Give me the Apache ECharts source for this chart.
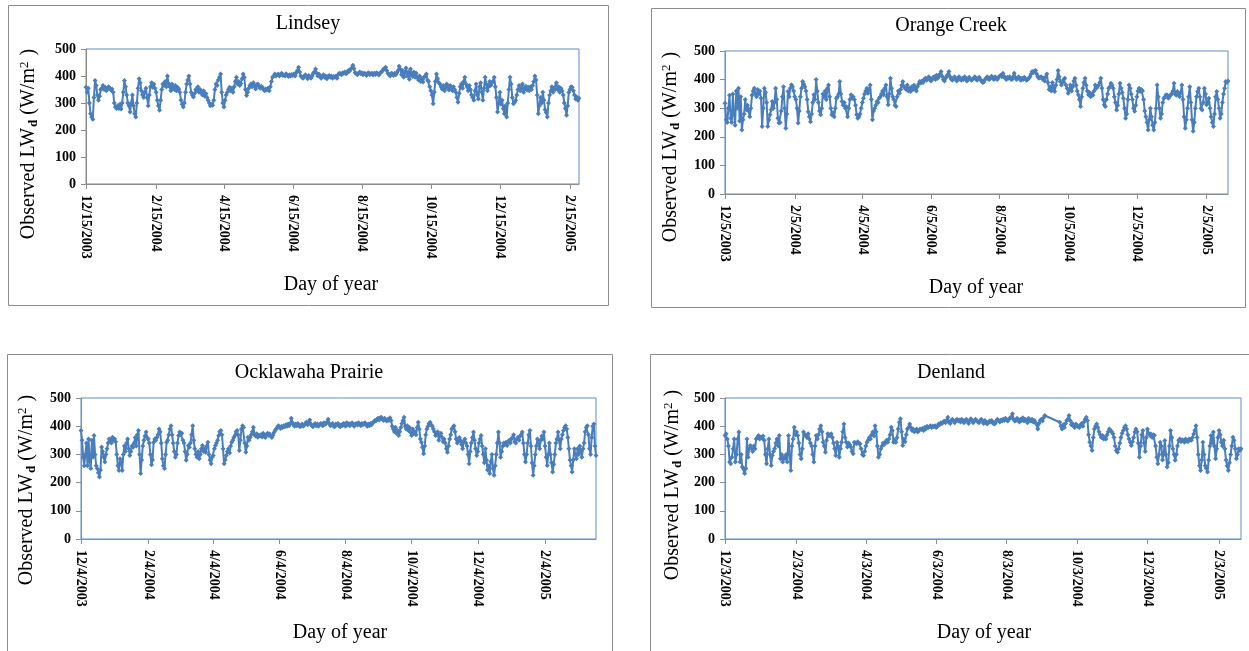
<!DOCTYPE html>
<html>
<head>
<meta charset="utf-8">
<script src="https://cdn.jsdelivr.net/npm/echarts@6/dist/echarts.min.js"></script>
<style>
  html, body { margin: 0; padding: 0; background: #ffffff; }
  #chart { width: 1249px; height: 651px; }
</style>
</head>
<body>
<div id="chart"></div>
<script>
// Daily observed downward longwave radiation (W/m2) at four sites.

const lindseyStart = '12/15/2003';
const lindseyTicks = ['12/15/2003', '2/15/2004', '4/15/2004', '6/15/2004', '8/15/2004', '10/15/2004', '12/15/2004', '2/15/2005'];
const lindsey = [
  358, 340, 355, 300, 260, 248, 240, 320, 383, 365,
  330, 310, 325, 350, 355, 365, 350, 358, 345, 352,
  360, 355, 348, 352, 340, 300, 285, 280, 290, 280,
  295, 278, 300, 340, 383, 360, 330, 300, 290, 267,
  300, 330, 290, 260, 248, 300, 355, 390, 375, 345,
  330, 320, 340, 355, 320, 290, 330, 360, 375, 358,
  370, 355, 340, 310, 290, 273, 310, 350, 370, 365,
  380, 360, 400, 372, 360, 345, 370, 355, 350, 365,
  345, 358, 352, 340, 310, 295, 285, 300, 340, 370,
  385, 400, 370, 340, 330, 322, 335, 350, 345, 360,
  340, 350, 338, 330, 345, 325, 335, 320, 310, 300,
  290, 295, 292, 310, 350, 370, 365, 385, 395, 407,
  340, 300, 285, 310, 330, 340, 350, 358, 345, 355,
  340, 360, 380, 395, 370, 380, 365, 372, 390, 407,
  395, 350, 328, 340, 355, 365, 370, 360, 375, 362,
  352, 368, 370, 360, 355, 362, 358, 350, 345, 352,
  348, 355, 345, 360, 380, 395, 400, 407, 400, 405,
  407, 400, 405, 410, 402, 404, 400, 408, 403, 398,
  405, 400, 406, 402, 408, 400, 412, 420, 432, 415,
  400, 395, 392, 400, 405, 398, 390, 402, 398, 392,
  400, 410, 415, 426, 410, 400, 407, 398, 392, 400,
  405, 395, 400, 390, 398, 402, 395, 400, 392, 398,
  395, 400, 392, 405, 410, 408, 405, 412, 410, 415,
  408, 412, 420, 418, 425, 430, 440, 428, 412, 408,
  405, 410, 415, 408, 412, 405, 410, 408, 402, 410,
  412, 405, 408, 410, 404, 410, 406, 412, 408, 404,
  410, 415, 418, 425, 428, 432, 420, 410, 405, 400,
  410, 408, 402, 410, 405, 412, 420, 436, 425, 405,
  420, 395, 412, 430, 400, 415, 388, 426, 405, 398,
  415, 395, 410, 395, 385, 400, 380, 392, 378, 395,
  400, 407, 385, 380, 360, 345, 330, 297, 340, 380,
  407, 390, 375, 370, 360, 352, 365, 345, 355, 370,
  360, 348, 365, 355, 345, 360, 350, 340, 320, 303,
  335, 360, 370, 355, 380, 395, 370, 360, 345, 365,
  350, 330, 320, 310, 345, 370, 330, 315, 360, 375,
  340, 310, 355, 395, 370, 345, 360, 380, 365, 375,
  380, 395, 360, 320, 267, 300, 340, 295, 310, 280,
  260, 290, 248, 300, 350, 395, 370, 320, 297, 303,
  310, 330, 350, 365, 345, 355, 370, 340, 352, 362,
  348, 358, 345, 360, 350, 365, 380, 400, 385, 330,
  260, 290, 320, 300, 340, 310, 275, 265, 248, 300,
  330, 345, 360, 340, 355, 350, 375, 350, 360, 340,
  355, 345, 330, 300, 280, 255, 290, 340, 350, 360,
  358, 345, 330, 315, 322, 310, 318
];

const orangeStart = '12/5/2003';
const orangeTicks = ['12/5/2003', '2/5/2004', '4/5/2004', '6/5/2004', '8/5/2004', '10/5/2004', '12/5/2004', '2/5/2005'];
const orangeCreek = [
  317, 260, 250, 300, 345, 265, 250, 350, 280, 240,
  360, 300, 370, 255, 340, 224, 260, 280, 330, 295,
  310, 290, 270, 300, 345, 360, 370, 350, 340, 365,
  350, 360, 335, 236, 300, 370, 355, 320, 236, 260,
  277, 295, 323, 300, 320, 370, 330, 265, 248, 250,
  290, 340, 375, 300, 230, 280, 358, 340, 370, 382,
  375, 360, 340, 330, 300, 248, 290, 340, 370, 393,
  385, 375, 360, 330, 288, 270, 253, 280, 320, 347,
  330, 400, 360, 320, 290, 277, 300, 350, 340, 360,
  330, 370, 381, 340, 300, 277, 285, 270, 300, 335,
  340, 350, 393, 350, 323, 310, 320, 300, 305, 270,
  300, 330, 347, 335, 340, 330, 310, 277, 265, 270,
  280, 300, 320, 335, 350, 360, 370, 352, 365, 381,
  330, 260, 290, 300, 310, 323, 320, 335, 340, 350,
  360, 347, 370, 381, 340, 312, 350, 405, 370, 340,
  330, 310, 306, 340, 360, 352, 365, 380, 393, 375,
  370, 365, 381, 360, 370, 358, 375, 365, 380, 370,
  360, 375, 385, 393, 388, 395, 390, 400, 405, 398,
  402, 410, 405, 395, 400, 408, 410, 400, 415, 405,
  410, 420, 428, 412, 400, 395, 405, 412, 418, 428,
  410, 402, 398, 405, 410, 400, 395, 405, 410, 400,
  398, 405, 400, 410, 405, 395, 400, 408, 402, 398,
  400, 405, 410, 402, 398, 405, 408, 400, 395, 390,
  392, 400, 405, 410, 402, 400, 408, 412, 405, 400,
  410, 405, 400, 408, 412, 415, 410, 422, 412, 405,
  400, 408, 405, 410, 402, 400, 410, 422, 408, 400,
  405, 410, 402, 398, 405, 400, 408, 402, 398, 400,
  405, 410, 420, 428, 425, 430, 432, 420, 410, 405,
  408, 410, 402, 405, 395, 410, 420, 390, 365, 375,
  360, 390, 370, 358, 380, 400, 432, 410, 393, 381,
  390, 400, 405, 381, 370, 352, 365, 381, 360, 375,
  395, 405, 380, 360, 347, 330, 306, 340, 370, 390,
  405, 380, 360, 347, 355, 340, 350, 345, 360, 381,
  370, 375, 380, 390, 405, 370, 330, 312, 306, 330,
  350, 370, 375, 387, 380, 370, 340, 320, 294, 310,
  350, 387, 370, 355, 335, 300, 265, 280, 330, 381,
  370, 350, 330, 300, 289, 310, 340, 360, 370, 358,
  365, 360, 330, 290, 270, 250, 224, 260, 300, 270,
  240, 224, 250, 300, 381, 340, 300, 265, 280, 320,
  335, 340, 347, 345, 335, 340, 347, 350, 360, 387,
  350, 345, 358, 350, 340, 355, 381, 330, 270, 230,
  260, 300, 340, 375, 320, 260, 219, 250, 300, 340,
  358, 370, 340, 300, 294, 320, 370, 350, 312, 320,
  335, 300, 270, 250, 236, 280, 340, 358, 330, 300,
  265, 280, 320, 350, 370, 393, 390, 395
];

const ocklawahaStart = '12/4/2003';
const ocklawahaTicks = ['12/4/2003', '2/4/2004', '4/4/2004', '6/4/2004', '8/4/2004', '10/4/2004', '12/4/2004', '2/4/2005'];
const ocklawaha = [
  385, 350, 290, 260, 300, 340, 260, 355, 275, 250,
  350, 290, 367, 300, 260, 250, 235, 220, 245, 326,
  310, 290, 273, 300, 320, 340, 355, 350, 340, 361,
  350, 355, 345, 300, 260, 243, 285, 270, 243, 300,
  330, 310, 340, 355, 320, 296, 310, 330, 325, 340,
  360, 330, 370, 385, 300, 232, 280, 330, 350, 365,
  379, 360, 355, 340, 300, 263, 280, 343, 355, 350,
  360, 370, 390, 380, 340, 285, 260, 250, 300, 343,
  350, 370, 390, 402, 370, 340, 310, 290, 300, 340,
  367, 379, 370, 375, 350, 340, 310, 279, 300, 332,
  325, 340, 370, 402, 350, 320, 300, 290, 310, 285,
  300, 320, 332, 310, 320, 308, 330, 343, 300, 280,
  267, 290, 296, 320, 332, 340, 350, 367, 380, 385,
  370, 320, 267, 280, 296, 310, 320, 305, 330, 343,
  350, 360, 367, 380, 385, 370, 314, 350, 390, 402,
  395, 340, 308, 330, 361, 350, 360, 370, 380, 396,
  370, 365, 373, 361, 368, 365, 370, 362, 375, 365,
  360, 370, 375, 368, 372, 365, 360, 368, 378, 385,
  390, 395, 402, 398, 392, 400, 395, 402, 398, 405,
  400, 408, 402, 410, 428, 412, 405, 400, 408, 402,
  410, 405, 398, 402, 408, 400, 405, 410, 415, 405,
  410, 422, 408, 402, 398, 405, 410, 402, 408, 400,
  405, 410, 408, 402, 412, 406, 410, 415, 425, 410,
  402, 405, 410, 400, 398, 408, 404, 410, 402, 398,
  405, 402, 410, 408, 400, 412, 405, 410, 402, 408,
  412, 405, 400, 408, 410, 404, 412, 408, 402, 410,
  405, 410, 412, 404, 400, 408, 402, 410, 405, 412,
  415, 420, 418, 425, 428, 422, 430, 432, 425, 420,
  428, 422, 418, 425, 420, 430, 420, 400, 390, 380,
  396, 375, 385, 367, 380, 395, 410, 420, 432, 400,
  390, 402, 385, 395, 378, 367, 390, 375, 380, 370,
  395, 414, 390, 355, 343, 325, 302, 330, 370, 390,
  400, 410, 414, 405, 400, 390, 380, 367, 370, 380,
  350, 367, 375, 360, 345, 355, 340, 320, 308, 330,
  355, 370, 390, 395, 402, 380, 355, 340, 345, 360,
  350, 335, 320, 345, 355, 340, 330, 300, 267, 310,
  340, 360, 379, 350, 320, 296, 310, 340, 355, 367,
  330, 300, 270, 320, 280, 245, 260, 232, 275, 300,
  250, 226, 260, 300, 340, 379, 340, 290, 310, 330,
  340, 335, 343, 332, 345, 350, 340, 355, 360, 370,
  345, 340, 355, 360, 350, 365, 370, 379, 340, 300,
  273, 300, 340, 370, 385, 330, 270, 226, 260, 300,
  330, 355, 340, 320, 350, 365, 355, 379, 330, 290,
  261, 300, 340, 300, 270, 238, 265, 300, 340, 355,
  379, 350, 320, 355, 370, 385, 395, 402, 390, 360,
  320, 280, 260, 238, 280, 320, 300, 285, 320, 300,
  330, 310, 290, 320, 340, 380, 395, 402, 370, 320,
  300, 360, 400, 408, 330, 296
];

const denlandStart = '12/3/2003';
const denlandTicks = ['12/3/2003', '2/3/2004', '4/3/2004', '6/3/2004', '8/3/2004', '10/3/2004', '12/3/2004', '2/3/2005'];
// null = day without a record; the line runs straight across those days
const denland = [
  367, 373, 355, 330, 273, 267, 290, 320, 355, 273,
  300, 355, 379, 273, 300, 255, 250, 232, 250, 355,
  290, 320, 332, 320, 310, 330, 320, 355, 360, 367,
  355, 362, 358, 365, 350, 300, 267, 320, 355, 300,
  261, 296, 310, 320, 340, 355, 330, 367, 285, 300,
  273, 290, 285, 300, 273, 367, 300, 243, 330, 355,
  396, 370, 379, 367, 340, 300, 285, 320, 379, 370,
  367, 360, 373, 355, 340, 330, 300, 273, 330, 367,
  355, 370, 390, 402, 380, 343, 330, 308, 350, 373,
  365, 370, 373, 360, 340, 320, 296, 343, 330, 290,
  320, 343, 380, 408, 360, 343, 326, 340, 335, 326,
  310, 302, 343, 340, 338, 345, 340, 338, 320, 300,
  296, 310, 330, 343, 350, 360, 355, 370, 379, 365,
  402, 380, 330, 290, 300, 320, 330, 340, 335, 343,
  350, 343, 355, 370, 396, 385, 343, 350, 343, 360,
  390, 414, 426, 380, 332, 355, 345, 370, 390, 395,
  408, 395, 385, 390, 380, 385, 390, 379, 385, 390,
  388, 392, 385, 395, 390, 400, 395, 398, 402, 395,
  400, 398, 402, 395, 400, 408, 405, 412, 410, 415,
  418, 412, 420, 432, 415, 410, 420, 425, 418, 412,
  420, 425, 418, 422, 415, 425, 420, 412, 420, 425,
  418, 410, 420, 426, 420, 412, 418, 425, 420, 415,
  412, 420, 425, 418, 410, 420, 415, 408, 412, 418,
  415, 420, 412, 408, 410, 418, 425, 420, 415, 422,
  418, 425, 420, 428, 422, 418, 425, 430, 432, 444,
  425, 418, 420, 428, 422, 415, 425, 420, 430, 418,
  425, 420, 412, 428, 422, 418, 425, 415, 420, 412,
  408, 390, 410, 420, 425, 418, 430, 438, null, null,
  null, null, null, null, null, null, null, null, null, null,
  414, 400, 390, 405, 395, 410, 420, 425, 438, 420,
  405, 410, 400, 395, 408, 402, 398, 395, 405, 410,
  400, 415, 425, 432, 420, 370, 343, 330, 314, 360,
  390, 400, 408, 395, 380, 370, 360, 367, 355, 360,
  355, 370, 380, 390, 385, 380, 373, 360, 330, 314,
  308, 320, 340, 360, 375, 385, 395, 402, 390, 370,
  355, 343, 332, 345, 360, 379, 390, 380, 340, 290,
  330, 370, 385, 340, 310, 360, 390, 375, 368, 372,
  360, 370, 368, 330, 290, 267, 300, 343, 330, 280,
  300, 349, 300, 255, 270, 330, 385, 360, 320, 300,
  279, 300, 330, 350, 355, 345, 352, 348, 343, 355,
  350, 345, 355, 352, 350, 360, 372, 385, 402, 360,
  300, 260, 243, 280, 343, 300, 260, 250, 238, 280,
  330, 367, 340, 379, 330, 285, 320, 360, 385, 370,
  343, 330, 350, 320, 280, 260, 243, 270, 300, 330,
  361, 350, 320, 285, 300, 320, 314, 320
];

const yTicks = [0, 100, 200, 300, 400, 500];
const xAxisTitle = 'Day of year';

// ---------- layout of the four panels ----------
const SERIF = "'Liberation Serif', 'Times New Roman', serif";
const LINE_BLUE = '#4A7EBB';

const panels = [
  { name: 'Lindsey', values: lindsey, start: lindseyStart, ticks: lindseyTicks,
    box: [8, 5, 600, 300], grid: [86, 49, 493, 135], title: [308, 24], yTitle: [29, 144], xTitle: [331, 284] },
  { name: 'Orange Creek', values: orangeCreek, start: orangeStart, ticks: orangeTicks,
    box: [651, 8, 594, 299], grid: [725, 51, 503, 143], title: [951, 26], yTitle: [671, 147], xTitle: [976, 287] },
  { name: 'Ocklawaha Prairie', values: ocklawaha, start: ocklawahaStart, ticks: ocklawahaTicks,
    box: [7, 354, 605, 320], grid: [81, 398, 515, 141], title: [309, 373], yTitle: [27, 490], xTitle: [340, 632] },
  { name: 'Denland', values: denland, start: denlandStart, ticks: denlandTicks,
    box: [650, 354, 620, 320], grid: [725, 398, 516, 141], title: [951, 373], yTitle: [673, 485], xTitle: [984, 632] }
];

function utcDay(label) {
  const [m, d, y] = label.split('/').map(Number);
  return Date.UTC(y, m - 1, d) / 86400000;
}

const grids = [], xAxes = [], yAxes = [], series = [], graphics = [];

panels.forEach((p, i) => {
  const startDay = utcDay(p.start);
  const tickPos = p.ticks.map(t => utcDay(t) - startDay);
  const tickName = {};
  p.ticks.forEach((t, k) => { tickName[tickPos[k]] = t; });

  grids.push({
    left: p.grid[0], top: p.grid[1], width: p.grid[2], height: p.grid[3],
    show: true, borderColor: '#5B8DCB', borderWidth: 1, backgroundColor: '#ffffff'
  });

  xAxes.push({
    type: 'value', gridIndex: i, min: 0, max: p.values.length - 1,
    splitLine: { show: false },
    axisLine: { show: true, onZero: false, lineStyle: { color: '#8C8C8C', width: 1 } },
    axisTick: { show: true, inside: false, length: 5, customValues: tickPos,
                lineStyle: { color: '#8C8C8C' } },
    axisLabel: {
      customValues: tickPos, rotate: -90, margin: 11,
      formatter: v => tickName[v] || '',
      fontFamily: SERIF, fontWeight: 'bold', fontSize: 14, color: '#000000'
    }
  });

  yAxes.push({
    type: 'value', gridIndex: i, min: yTicks[0], max: yTicks[yTicks.length - 1],
    interval: yTicks[1] - yTicks[0],
    splitLine: { show: false },
    axisLine: { show: true, lineStyle: { color: '#8C8C8C', width: 1 } },
    axisTick: { show: true, inside: false, length: 5, lineStyle: { color: '#8C8C8C' } },
    axisLabel: { margin: 10, fontFamily: SERIF, fontWeight: 'bold', fontSize: 14, color: '#000000' }
  });

  const pts = [];
  p.values.forEach((v, k) => { if (v !== null) pts.push([k, v]); });

  series.push({
    type: 'line', xAxisIndex: i, yAxisIndex: i, data: pts,
    symbol: 'diamond', symbolSize: 5, showAllSymbol: true,
    lineStyle: { color: LINE_BLUE, width: 2 },
    itemStyle: { color: LINE_BLUE, borderWidth: 0 },
    emphasis: { disabled: true }
  });

  // panel frame
  graphics.push({
    type: 'rect', silent: true, z: -10,
    shape: { x: p.box[0] + 0.5, y: p.box[1] + 0.5, width: p.box[2], height: p.box[3] },
    style: { fill: '#ffffff', stroke: '#8C8C8C', lineWidth: 1 }
  });
  // panel title
  graphics.push({
    type: 'text', silent: true, x: p.title[0], y: p.title[1],
    style: { text: p.name, font: '20px ' + SERIF, fill: '#000000', align: 'center', verticalAlign: 'middle' }
  });
  // horizontal axis title
  graphics.push({
    type: 'text', silent: true, x: p.xTitle[0], y: p.xTitle[1] + 1,
    style: { text: xAxisTitle, font: '20px ' + SERIF, fill: '#000000', align: 'center', verticalAlign: 'middle' }
  });
  // vertical axis title with subscript and superscript
  graphics.push({
    type: 'text', silent: true, x: p.yTitle[0], y: p.yTitle[1], rotation: Math.PI / 2,
    style: {
      text: '{a|Observed LW}{s|d}{a| (W/m}{p|2}{a| )}',
      align: 'center', verticalAlign: 'middle', fill: '#000000',
      rich: {
        a: { fontFamily: SERIF, fontSize: 20, color: '#000000' },
        s: { fontFamily: SERIF, fontSize: 13, fontWeight: 'bold', color: '#000000', padding: [9, 0, 0, 1] },
        p: { fontFamily: SERIF, fontSize: 13, color: '#000000', padding: [0, 1, 9, 0] }
      }
    }
  });
});

const chart = echarts.init(document.getElementById('chart'), null, { renderer: 'canvas' });
chart.setOption({
  animation: false,
  backgroundColor: '#ffffff',
  grid: grids,
  xAxis: xAxes,
  yAxis: yAxes,
  series: series,
  graphic: { elements: graphics }
});
</script>
</body>
</html>
